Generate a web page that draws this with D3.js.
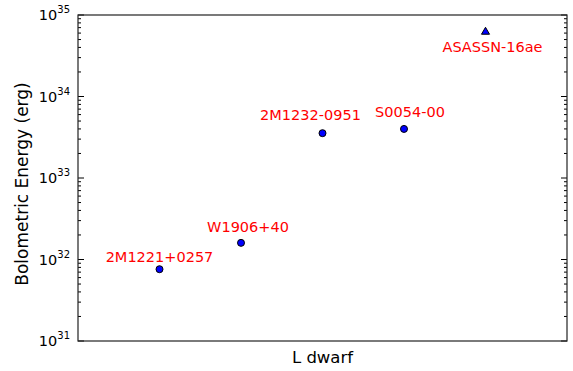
<!DOCTYPE html>
<html>
<head>
<meta charset="utf-8">
<script src="https://cdn.jsdelivr.net/npm/d3@7"></script>
<style>
  body { margin: 0; background: #fff; }
  text { font-family: "DejaVu Sans", sans-serif; }
</style>
</head>
<body>
<div id="chart"></div>
<script>
    // data
    let names = ["2M1221+0257", "W1906+40", "2M1232-0951", "S0054-00", "ASASSN-16ae"];
    let xIndex = [1, 2, 3, 4, 5];
    let energy = [7.6e31, 1.6e32, 3.55e33, 4.0e33, 6.2e34];
    let markers = ["circle", "circle", "circle", "circle", "triangle"];
    // label offsets in pixels from the point (dx of text centre, dy of baseline)
    let labelDx = [0, 7, -12, 6, 7];
    let labelDy = [-7, -11, -13, -12, 20];
    let yTicks = [31, 32, 33, 34, 35];

    let width = 573, height = 371;
    let margin = { top: 15, right: 6, bottom: 30, left: 78 };

    let svg = d3.select("#chart").append("svg")
      .attr("width", width)
      .attr("height", height);

    let x = d3.scaleLinear()
      .domain([0, 6])
      .range([margin.left, width - margin.right]);

    let y = d3.scaleLog()
      .domain([1e31, 1e35])
      .range([height - margin.bottom, margin.top]);

    // minor/major ticks on both sides, pointing inward
    let minor = [];
    for (let e = 31; e < 35; e++) {
      for (let k = 2; k <= 9; k++) minor.push(k * Math.pow(10, e));
    }

    function ticks(g, xpos, dir) {
      g.selectAll(".major").data(yTicks).join("line")
        .attr("x1", xpos).attr("x2", xpos + dir * 6)
        .attr("y1", d => y(Math.pow(10, d))).attr("y2", d => y(Math.pow(10, d)))
        .attr("stroke", "#000").attr("stroke-width", 1);
      g.selectAll(".minor").data(minor).join("line")
        .attr("x1", xpos).attr("x2", xpos + dir * 3)
        .attr("y1", d => y(d)).attr("y2", d => y(d))
        .attr("stroke", "#000").attr("stroke-width", 1);
    }

    svg.append("g").call(ticks, x.range()[0], 1);
    svg.append("g").call(ticks, x.range()[1], -1);

    // frame
    svg.append("rect")
      .attr("x", x.range()[0])
      .attr("y", y.range()[1])
      .attr("width", x.range()[1] - x.range()[0])
      .attr("height", y.range()[0] - y.range()[1])
      .attr("fill", "none")
      .attr("stroke", "#222")
      .attr("stroke-width", 1.2);

    // tick labels 10^n
    let tl = svg.append("g").selectAll("text").data(yTicks).join("text")
      .attr("x", x.range()[0] - 8)
      .attr("y", d => y(Math.pow(10, d)) + 5)
      .attr("text-anchor", "end")
      .attr("font-size", "14.5px")
      .attr("fill", "#000");
    tl.append("tspan").text("10");
    tl.append("tspan").attr("dy", -7).attr("font-size", "10px").text(d => d);

    // axis titles
    svg.append("text")
      .attr("transform", "translate(28, 184) rotate(-90)")
      .attr("text-anchor", "middle")
      .attr("font-size", "17px")
      .text("Bolometric Energy (erg)");

    svg.append("text")
      .attr("x", (x.range()[0] + x.range()[1]) / 2)
      .attr("y", 363)
      .attr("text-anchor", "middle")
      .attr("font-size", "16.5px")
      .text("L dwarf");

    // points
    let idx = d3.range(names.length);
    let tri = d3.symbol().type(d3.symbolTriangle).size(28);

    svg.append("g").selectAll("path").data(idx.filter(i => markers[i] === "triangle")).join("path")
      .attr("d", tri)
      .attr("transform", i => `translate(${x(xIndex[i])},${y(energy[i])})`)
      .attr("fill", "#0000ff")
      .attr("stroke", "#000")
      .attr("stroke-width", 1);

    svg.append("g").selectAll("circle").data(idx.filter(i => markers[i] === "circle")).join("circle")
      .attr("cx", i => x(xIndex[i]))
      .attr("cy", i => y(energy[i]))
      .attr("r", 3.5)
      .attr("fill", "#0000ff")
      .attr("stroke", "#000")
      .attr("stroke-width", 1);

    // labels
    svg.append("g").selectAll("text").data(idx).join("text")
      .attr("x", i => x(xIndex[i]) + labelDx[i])
      .attr("y", i => y(energy[i]) + labelDy[i])
      .attr("text-anchor", "middle")
      .attr("font-size", "14.5px")
      .attr("fill", "#ff0000")
      .text(i => names[i]);
</script>
</body>
</html>
